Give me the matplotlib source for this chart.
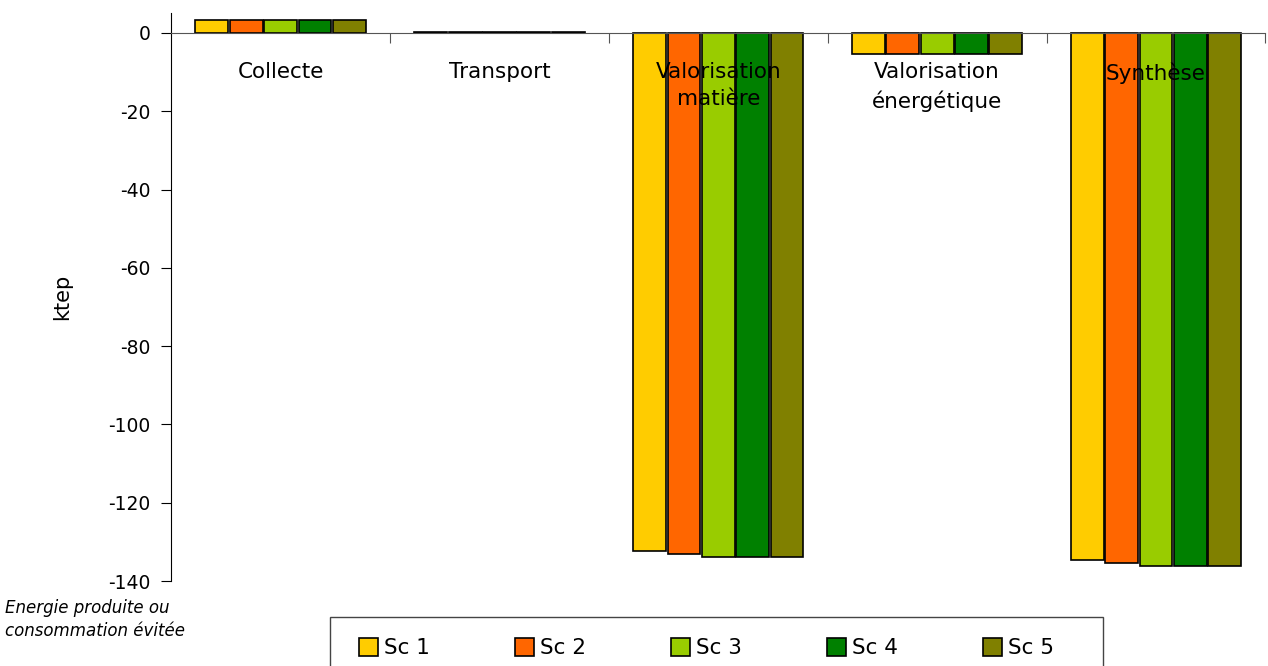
import matplotlib
matplotlib.use("Agg")
import matplotlib.pyplot as plt
from matplotlib.patches import Rectangle
import numpy as np

# Donnees (ktep)
categories = ["Collecte", "Transport", "Valorisation\nmatière", "Valorisation\nénergétique", "Synthèse"]
scenarios = ["Sc 1", "Sc 2", "Sc 3", "Sc 4", "Sc 5"]
sc1 = [3.3, 0.3, -132.3, -5.5, -134.6]
sc2 = [3.3, 0.3, -133.1, -5.5, -135.3]
sc3 = [3.3, 0.3, -133.8, -5.5, -136.2]
sc4 = [3.3, 0.3, -133.8, -5.5, -136.2]
sc5 = [3.3, 0.3, -133.8, -5.5, -136.2]
colors = ["#FFCC00", "#FF6600", "#99CC00", "#008000", "#808000"]
yticks = [0, -20, -40, -60, -80, -100, -120, -140]

plt.rcParams["font.family"] = ["DejaVu Sans"]

W, H = 1268, 666
fig = plt.figure(figsize=(W / 100, H / 100), dpi=100)
ax = fig.add_axes([0.135, 0.1276, 0.863, 0.8524])

series = [sc1, sc2, sc3, sc4, sc5]
x = np.arange(len(categories))
step = 0.157
width = 0.15
for i, (vals, name, col) in enumerate(zip(series, scenarios, colors)):
    ax.bar(x + (i - 2) * step, vals, width=width, color=col, edgecolor="black",
           linewidth=1.2, label=name)

ax.set_xlim(-0.5, len(categories) - 0.5)
ax.set_ylim(-140, 5)
ax.set_yticks(yticks)
ax.set_yticklabels([str(v) for v in yticks], fontsize=13.5)
ax.set_ylabel("ktep", fontsize=15, labelpad=26)

# axe x a zero, graduations aux limites des categories
ax.spines["bottom"].set_position(("data", 0))
ax.spines["top"].set_visible(False)
ax.spines["right"].set_visible(False)
ax.set_xticks(np.arange(len(categories)) + 0.5)
ax.set_xticklabels([])
ax.tick_params(axis="x", direction="out", length=7, color="#555555")
ax.tick_params(axis="y", direction="out", length=7, pad=8)
ax.spines["bottom"].set_color("#555555")

for xi, cat in zip(x, categories):
    ax.text(xi, -7.5, cat, ha="center", va="top", fontsize=15.5, linespacing=1.45)

fig.text(0.004, 0.1, "Energie produite ou\nconsommation évitée", fontsize=12,
         style="italic", ha="left", va="top", linespacing=1.3)

# cadre de la legende
fig.patches.append(Rectangle((330 / W, -0.05), (1103 - 330) / W, 0.05 + (H - 617) / H,
                             transform=fig.transFigure, facecolor="white",
                             edgecolor="#444444", linewidth=1.0, zorder=0))

leg = fig.legend(loc="center left", bbox_to_anchor=(359 / W, 1 - 648 / H),
                 ncol=5, fontsize=15.5, frameon=False,
                 handlelength=0.9, handleheight=0.9,
                 handletextpad=0.25, columnspacing=3.96, borderpad=0,
                 borderaxespad=0)

fig.savefig("out.png", dpi=100)
